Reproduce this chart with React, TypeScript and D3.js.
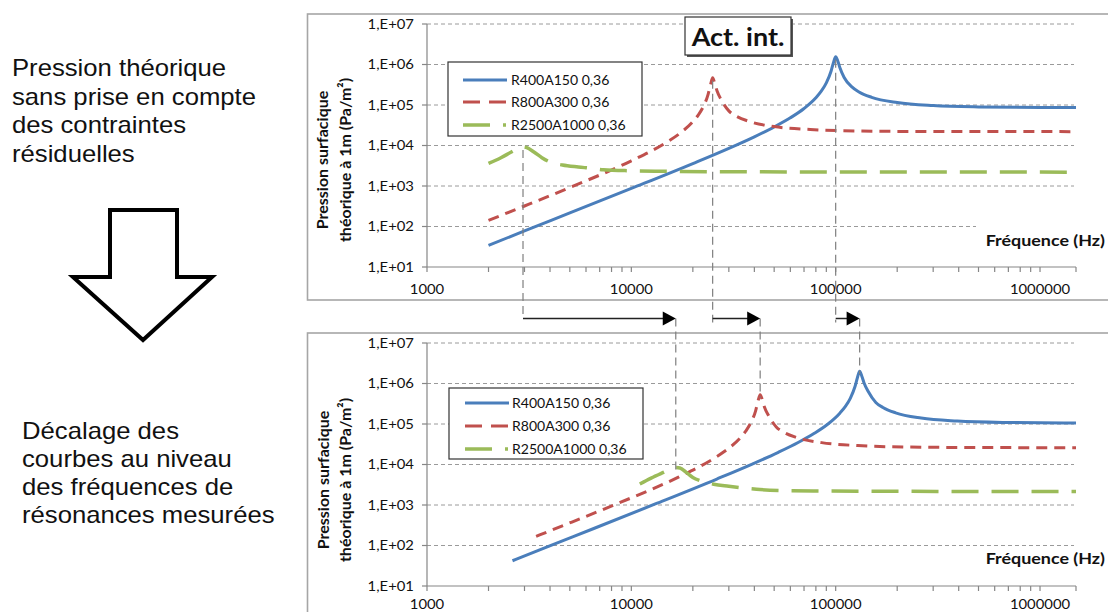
import React from 'react';
import * as d3 from 'd3';

// ---------- data ----------
const seriesNames = ['R400A150 0,36', 'R800A300 0,36', 'R2500A1000 0,36'];
const seriesColors = ['#4A7EBB', '#C0504D', '#9BBB59'];

const yTickValues = [1e1, 1e2, 1e3, 1e4, 1e5, 1e6, 1e7];
const yTickLabels = ['1,E+01', '1,E+02', '1,E+03', '1,E+04', '1,E+05', '1,E+06', '1,E+07'];
const xTickValues = [1000, 10000, 100000, 1000000];
const xTickLabels = ['1000', '10000', '100000', '1000000'];

// Top chart: theoretical pressure
const topBlue: [number, number][] = [
  [2000, 34], [3000, 78], [5000, 216], [10000, 870], [20000, 3580], [30000, 8500],
  [40000, 16400], [50000, 28700], [60000, 48200], [70000, 82000], [80000, 151000],
  [85000, 220000], [90000, 352000], [95000, 693000], [97500, 1106000], [100000, 1560000],
  [102500, 1209000], [105000, 815000], [110000, 479000], [120000, 279000], [130000, 210000],
  [150000, 155000], [200000, 115000], [300000, 96700], [500000, 89600], [1000000, 86900],
  [1500000, 86400],
];
const topRed: [number, number][] = [
  [2000, 142], [3000, 321], [5000, 917], [10000, 4190], [15000, 12300], [17500, 21000],
  [20000, 38800], [21250, 56500], [22500, 91000], [23750, 183000], [24375, 307000],
  [25000, 468000], [25625, 335000], [26250, 224000], [27500, 136000], [30000, 71600],
  [32500, 53800], [37500, 39600], [50000, 29300], [75000, 24800], [125000, 22900],
  [250000, 22200], [1500000, 22000],
];
const topGreen: [number, number][] = [
  [2000, 3600], [2300, 5000], [2600, 7000], [2800, 8500], [2950, 9200], [3100, 8700],
  [3350, 6800], [3650, 5000], [4000, 3900], [4600, 3300], [5500, 2950], [6300, 2750],
  [7300, 2520], [10000, 2380], [15000, 2300], [30000, 2250], [100000, 2220], [1500000, 2200],
];

// Bottom chart: curves shifted to measured resonance frequencies
const botBlue: [number, number][] = [
  [2620, 42], [3930, 95], [6550, 263], [13100, 1060], [26200, 4380], [39300, 10400],
  [52400, 20000], [65500, 34900], [78600, 58900], [91700, 100000], [104800, 185000],
  [111350, 269000], [117900, 431000], [124450, 856000], [127725, 1385000], [131000, 2000000],
  [134275, 1513000], [137550, 1045000], [144100, 644000], [157200, 341000], [170300, 256000],
  [196500, 189000], [262000, 140000], [393000, 118000], [655000, 109000], [1310000, 106000],
  [1500000, 105800],
];
const botRed: [number, number][] = [
  [3420, 168], [5120, 380], [8540, 1080], [17100, 4950], [25600, 14600], [29900, 24900],
  [34200, 45800], [36300, 66700], [38400, 107000], [40600, 215000], [41600, 355000],
  [42700, 531000], [43800, 388000], [44800, 263000], [47000, 160000], [51200, 84600],
  [55500, 63500], [64000, 46800], [85400, 34700], [128000, 29300], [213000, 27100],
  [427000, 26300], [1500000, 26000],
];
const botGreen: [number, number][] = [
  [11000, 3300], [12500, 4600], [14500, 6500], [15700, 7800], [16500, 8400], [17300, 8200],
  [18500, 6500], [20000, 4800], [22000, 3900], [25300, 3250], [30000, 2900], [35000, 2650],
  [41000, 2450], [55000, 2280], [80000, 2220], [200000, 2180], [1500000, 2150],
];

const leftTextTop = ['Pression théorique', 'sans prise en compte', 'des contraintes', 'résiduelles'];
const leftTextBottom = ['Décalage des', 'courbes au niveau', 'des fréquences de', 'résonances mesurées'];
const yTitle = ['Pression surfacique', 'théorique à 1m (Pa/m²)'];
const xTitle = 'Fréquence (Hz)';
const boxTitle = 'Act. int.';

// ---------- layout ----------
const W = 1108;
const H = 612;
const X0 = 427;
const X1 = 1076;
const xScale = d3.scaleLog().domain([1000, 1500000]).range([X0, X1]);
const FONT = 'Lato, "Open Sans", sans-serif';
const ARIAL = '"Liberation Sans", Arial, sans-serif';
const GRID = '#9a9a9a';
const AXIS = '#868686';

const dashes = [null, '11,7', '27,13'];
const widths = [3, 3, 3.5];

type Series = [number, number][];

function SText(props: {
  x: number; y: number; sx?: number; rotate?: number; anchor?: string; size: number;
  bold?: boolean; family?: string; dy?: string; children: React.ReactNode;
}) {
  const { x, y, sx = 1, rotate, anchor = 'start', size, bold, family = FONT, dy, children } = props;
  const t = `translate(${x},${y})${rotate ? ` rotate(${rotate})` : ''} scale(${sx},1)`;
  return (
    <text transform={t} x={0} y={0} dy={dy} textAnchor={anchor} fontFamily={family} fontSize={size}
      fontWeight={bold ? 'bold' : 'normal'} fill="#111">
      {children}
    </text>
  );
}

function Panel(props: {
  yTop: number; yBottom: number; series: Series[];
  legend: { x: number; y: number; w: number; h: number; rows: number[]; sx0: number; sx1: number; tx: number };
  titleCx: number[]; titleCy: number; freqY: number; xLabelOff: number; mask?: boolean;
}) {
  const { yTop, yBottom, series, legend, titleCx, titleCy, freqY, xLabelOff, mask } = props;
  const yScale = d3.scaleLog().domain([10, 1e7]).range([yBottom, yTop]);
  const line = d3
    .line<[number, number]>()
    .x((d) => xScale(d[0]))
    .y((d) => yScale(d[1]))
    .curve(d3.curveMonotoneX);
  const minor = xScale.ticks().concat([1500000]);
  return (
    <g>
      {yTickValues.slice(1).map((v) => (
        <line key={'g' + v} x1={X0} x2={1074} y1={yScale(v)} y2={yScale(v)}
          stroke={GRID} strokeWidth={1} strokeDasharray="4,3" />
      ))}
      {mask && <rect x={976} y={218} width={110} height={40} fill="#fff" />}
      <line x1={X0} x2={X0} y1={yTop} y2={yBottom} stroke={AXIS} strokeWidth={1.2} />
      <line x1={X0} x2={X1} y1={yBottom} y2={yBottom} stroke={AXIS} strokeWidth={1.2} />
      {yTickValues.map((v, i) => (
        <g key={'y' + v}>
          <line x1={X0 - 5} x2={X0} y1={yScale(v)} y2={yScale(v)} stroke={AXIS} strokeWidth={1.2} />
          <SText x={414} y={yScale(v)} dy="0.35em" anchor="end" size={13.5} sx={1.1}>
            {yTickLabels[i]}
          </SText>
        </g>
      ))}
      {minor.map((v) => (
        <line key={'m' + v} x1={xScale(v)} x2={xScale(v)} y1={yBottom} y2={yBottom + 5} stroke={AXIS} strokeWidth={1.2} />
      ))}
      {xTickValues.map((v, i) => (
        <SText key={'x' + v} x={xScale(v)} y={yBottom + xLabelOff} dy="0.35em" anchor="middle" size={13.5} sx={1.1}>
          {xTickLabels[i]}
        </SText>
      ))}
      {yTitle.map((t, i) => (
        <SText key={t} x={titleCx[i]} y={titleCy} rotate={-90} dy="0.35em" anchor="middle" size={16} bold>
          {t}
        </SText>
      ))}
      <SText x={1105} y={freqY} anchor="end" size={16} sx={1.12} bold>
        {xTitle}
      </SText>
      {series.map((s, i) => (
        <path key={'s' + i} d={line(s) || ''} fill="none" stroke={seriesColors[i]} strokeWidth={widths[i]}
          strokeDasharray={dashes[i] || undefined} strokeLinejoin="round" />
      ))}
      <rect x={legend.x} y={legend.y} width={legend.w} height={legend.h} fill="#fff" stroke="#333" strokeWidth={1.2} />
      {seriesNames.map((n, i) => (
        <g key={n}>
          <line x1={legend.sx0} x2={legend.sx1} y1={legend.rows[i]} y2={legend.rows[i]} stroke={seriesColors[i]}
            strokeWidth={widths[i]} strokeDasharray={i === 0 ? undefined : i === 1 ? '17,9' : '27,13,3,20'} />
          <SText x={legend.tx} y={legend.rows[i]} dy="0.35em" size={13.5} sx={1.04}>
            {n}
          </SText>
        </g>
      ))}
    </g>
  );
}

function peakY(series: Series, yTop: number, yBottom: number) {
  const yScale = d3.scaleLog().domain([10, 1e7]).range([yBottom, yTop]);
  const m = d3.max(series, (d) => d[1]) as number;
  const f = (series.find((d) => d[1] === m) as [number, number])[0];
  return { x: xScale(f), y: yScale(m) };
}

export default function App() {
  const topSeries = [topBlue, topRed, topGreen];
  const botSeries = [botBlue, botRed, botGreen];
  const topPeaks = topSeries.map((s) => peakY(s, 24, 267));
  const botPeaks = botSeries.map((s) => peakY(s, 343, 586));
  const arrowY = 318.5;
  return (
    <svg width={W} height={H} style={{ position: 'absolute', left: 0, top: 0, background: '#fff' }}>
      <rect x={0} y={0} width={W} height={H} fill="#fff" />
      {leftTextTop.map((t, i) => (
        <SText key={t} x={12} y={76 + i * 28.7} size={24} sx={1.07} family={ARIAL}>
          {t}
        </SText>
      ))}
      {leftTextBottom.map((t, i) => (
        <SText key={t} x={22} y={439 + i * 28} size={24} sx={1.07} family={ARIAL}>
          {t}
        </SText>
      ))}
      <polygon points="110,210 177,210 177,277 212,277 143,340 73,277 110,277" fill="#fff" stroke="#000"
        strokeWidth={4} strokeLinejoin="miter" />

      <rect x={307.5} y={14} width={900} height={286} fill="#fff" stroke="#a6a6a6" strokeWidth={1.6} />
      <rect x={307.5} y={333} width={900} height={400} fill="#fff" stroke="#a6a6a6" strokeWidth={1.6} />

      <Panel yTop={24} yBottom={267} series={topSeries}
        legend={{ x: 448, y: 62, w: 194, h: 74, rows: [80, 102, 125], sx0: 463, sx1: 507, tx: 511 }}
        titleCx={[322, 345]} titleCy={160} freqY={246} xLabelOff={22} mask />
      <Panel yTop={343} yBottom={586} series={botSeries}
        legend={{ x: 449, y: 388, w: 194, h: 71, rows: [403, 426, 449], sx0: 465, sx1: 509, tx: 512 }}
        titleCx={[323, 345]} titleCy={480} freqY={564} xLabelOff={18.5} />

      <rect x={687} y={19} width={106} height={38} fill="#555" />
      <rect x={685} y={17} width={106} height={38} fill="#fff" stroke="#333" strokeWidth={1.2} />
      <SText x={738} y={46} anchor="middle" size={25} sx={1.08} bold>
        {boxTitle}
      </SText>

      {topPeaks.map((p, i) => (
        <line key={'tv' + i} x1={p.x} x2={p.x} y1={p.y + 3} y2={i === 2 ? arrowY : arrowY + 4}
          stroke="#7f7f7f" strokeWidth={1.2} strokeDasharray="8,5" />
      ))}
      {botPeaks.map((p, i) => (
        <line key={'bv' + i} x1={p.x} x2={p.x} y1={arrowY} y2={p.y + 3}
          stroke="#7f7f7f" strokeWidth={1.2} strokeDasharray="8,5" />
      ))}
      {[2, 1, 0].map((k) => {
        const xa = topPeaks[k].x;
        const xb = botPeaks[k].x;
        return (
          <g key={'ar' + k}>
            <line x1={xa} x2={xb - 12} y1={arrowY} y2={arrowY} stroke="#222" strokeWidth={1.5} />
            <polygon points={`${xb - 13},${arrowY - 7} ${xb},${arrowY} ${xb - 13},${arrowY + 7}`} fill="#000" />
          </g>
        );
      })}
    </svg>
  );
}
